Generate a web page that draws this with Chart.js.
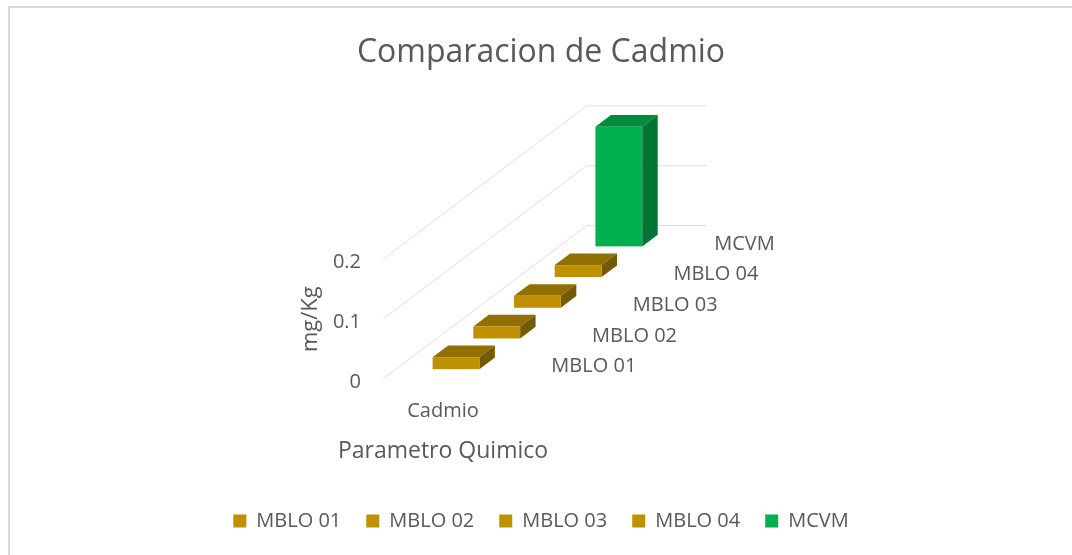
<!DOCTYPE html>
<html>
<head>
<meta charset="utf-8">
<script src="https://cdn.jsdelivr.net/npm/chart.js@4"></script>
<style>
  html, body { margin: 0; padding: 0; background: #fff; }
  #wrap { width: 1072px; height: 555px; position: relative; }
</style>
</head>
<body>
<div id="wrap"><canvas id="myChart" width="1072" height="555"></canvas></div>
<script>
// Datos del grafico
const categories = ['Cadmio'];
const seriesNames = ['MBLO 01', 'MBLO 02', 'MBLO 03', 'MBLO 04', 'MCVM'];
const cadmioValues = [0.02, 0.02, 0.02, 0.02, 0.2];
const yTicks = [0, 0.1, 0.2];
const xTitle = 'Parametro Quimico';

// Colores (frente, tapa, lado)
const frontColors = ['#BF9000', '#BF9000', '#BF9000', '#BF9000', '#00B050'];
const topColors = ['#917000', '#917000', '#917000', '#917000', '#008C3E'];
const sideColors = ['#765A00', '#765A00', '#765A00', '#765A00', '#007433'];

const textColor = '#595959';
const fontFamily = '"Open Sans", sans-serif';

// Desplazamiento de profundidad por serie (vista oblicua)
const DX = 40.7;
const DY = -30.7;

const depthPlugin = {
    id: 'depth3d',
    beforeDraw(chart) {
        const ctx = chart.ctx;
        ctx.save();
        ctx.strokeStyle = '#d9d9d9';
        ctx.lineWidth = 2;
        ctx.beginPath();
        ctx.moveTo(9, chart.height);
        ctx.lineTo(9, 7);
        ctx.lineTo(chart.width, 7);
        ctx.stroke();
        ctx.restore();
    },
    beforeDatasetsDraw(chart) {
        const { ctx, scales: { x, y } } = chart;
        const n = seriesNames.length;
        ctx.save();

        // lineas de division (pared lateral y fondo)
        ctx.strokeStyle = '#dedede';
        ctx.lineWidth = 1;
        y.ticks.forEach(t => {
            const py = y.getPixelForValue(t.value);
            ctx.beginPath();
            ctx.moveTo(x.left, py);
            ctx.lineTo(x.left + n * DX, py + n * DY);
            ctx.lineTo(x.right + n * DX, py + n * DY);
            ctx.stroke();
        });

        // barras 3D, de atras hacia adelante
        const cx = x.getPixelForValue(0);
        const half = (x.right - x.left) * 0.39 / 2;
        const y0 = y.getPixelForValue(0);
        for (let i = n - 1; i >= 0; i--) {
            if (!chart.isDatasetVisible(i)) continue;
            const v = chart.data.datasets[i].data[0];
            const y1 = y.getPixelForValue(v);
            const f = i + 0.32, b = i + 0.70;
            const fx = f * DX, fy = f * DY, bx = b * DX, by = b * DY;
            const L = cx - half, R = cx + half;

            // tapa
            ctx.fillStyle = topColors[i];
            ctx.beginPath();
            ctx.moveTo(L + fx, y1 + fy);
            ctx.lineTo(R + fx, y1 + fy);
            ctx.lineTo(R + bx, y1 + by);
            ctx.lineTo(L + bx, y1 + by);
            ctx.closePath();
            ctx.fill();

            // lado derecho
            ctx.fillStyle = sideColors[i];
            ctx.beginPath();
            ctx.moveTo(R + fx, y1 + fy);
            ctx.lineTo(R + bx, y1 + by);
            ctx.lineTo(R + bx, y0 + by);
            ctx.lineTo(R + fx, y0 + fy);
            ctx.closePath();
            ctx.fill();

            // frente
            ctx.fillStyle = frontColors[i];
            ctx.fillRect(L + fx, y1 + fy, R - L, y0 - y1);
        }

        // etiquetas del eje de series
        ctx.fillStyle = textColor;
        ctx.font = '20px ' + fontFamily;
        ctx.textAlign = 'left';
        ctx.textBaseline = 'middle';
        seriesNames.forEach((name, i) => {
            const c = i + 0.5;
            ctx.fillText(name, x.right + c * DX + 28, y0 + c * DY + 3);
        });

        // titulo del eje de categorias
        ctx.font = '23px ' + fontFamily;
        ctx.textAlign = 'center';
        ctx.fillText(xTitle, cx, x.top + 72);

        ctx.restore();
        return false; // no dibujar las barras planas
    }
};

const ctx = document.getElementById('myChart').getContext('2d');
const myChart = new Chart(ctx, {
    type: 'bar',
    data: {
        labels: categories,
        datasets: seriesNames.map((name, i) => ({
            label: name,
            data: [cadmioValues[i]],
            backgroundColor: frontColors[i],
            borderWidth: 0
        }))
    },
    options: {
        responsive: false,
        animation: false,
        layout: { padding: { left: 10, right: 0, top: 0, bottom: 14 } },
        scales: {
            x: {
                grid: { display: false, drawTicks: false },
                border: { display: false },
                ticks: { color: textColor, font: { family: fontFamily, size: 20 }, padding: 20 },
                afterFit: scale => { scale.height = 107; }
            },
            y: {
                min: 0,
                max: 0.2,
                grid: { display: false, drawTicks: false },
                border: { display: false },
                afterBuildTicks: scale => { scale.ticks = yTicks.map(v => ({ value: v })); },
                ticks: { color: textColor, font: { family: fontFamily, size: 20 }, padding: 22, labelOffset: 3 },
                title: {
                    display: true,
                    text: 'mg/Kg',
                    color: textColor,
                    font: { family: fontFamily, size: 22 },
                    padding: { top: 288, bottom: 4 }
                },
                afterFit: scale => { scale.width = 373; }
            },
            yFondo: {
                position: 'right',
                display: true,
                grid: { display: false, drawTicks: false },
                border: { display: false },
                ticks: { display: false },
                afterFit: scale => { scale.width = 569; }
            }
        },
        plugins: {
            title: {
                display: true,
                text: 'Comparacion de Cadmio',
                color: textColor,
                font: { family: fontFamily, size: 32, weight: 'normal' },
                padding: { top: 34, bottom: 187 }
            },
            legend: {
                position: 'bottom',
                labels: {
                    color: textColor,
                    font: { family: fontFamily, size: 20 },
                    boxWidth: 13,
                    boxHeight: 13,
                    padding: 25
                }
            },
            tooltip: { enabled: false }
        }
    },
    plugins: [depthPlugin]
});
</script>
</body>
</html>
